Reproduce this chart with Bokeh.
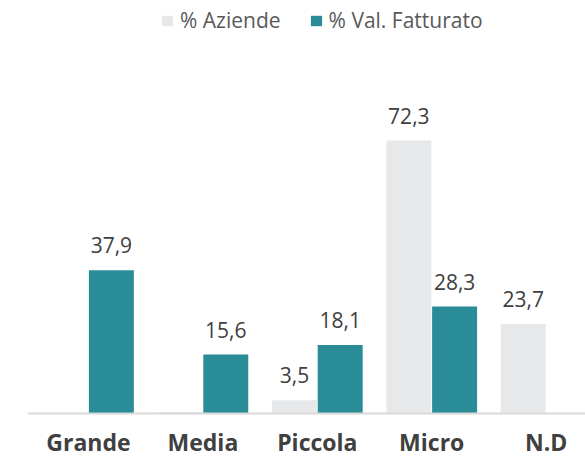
from bokeh.plotting import figure
from bokeh.models import ColumnDataSource, Range1d, Legend, LegendItem, Span
from bokeh.embed import file_html
from bokeh.resources import INLINE
from bokeh.core.properties import value

categories = ["Grande", "Media", "Piccola", "Micro", "N.D"]
aziende = [0.0, 0.4, 3.5, 72.3, 23.7]
fatturato = [37.9, 15.6, 18.1, 28.3, 0.0]

GREY = "#E7E8EA"
TEAL = "#2A8C96"
FONT = "Open Sans"

xs = list(range(len(categories)))

def lab(v):
    return ("%.1f" % v).replace(".", ",") if v >= 1 else ""

src_a = ColumnDataSource(dict(x=[i - 0.2 for i in xs], top=aziende, lab=[lab(v) for v in aziende]))
src_f = ColumnDataSource(dict(x=[i + 0.2 for i in xs], top=fatturato, lab=[lab(v) for v in fatturato]))
src_c = ColumnDataSource(dict(x=xs, y=[0] * len(xs), lab=categories))

p = figure(width=585, height=458, output_backend="svg", toolbar_location=None,
           x_range=Range1d(-0.533, 4.344), y_range=Range1d(-11.95, 109.41),
           min_border_left=27, min_border_right=0, min_border_top=0, min_border_bottom=0)
p.outline_line_color = None
p.grid.visible = False
p.xaxis.visible = False
p.yaxis.visible = False

ra = p.vbar(x="x", top="top", width=0.393, source=src_a, fill_color=GREY, line_color=None)
rf = p.vbar(x="x", top="top", width=0.393, source=src_f, fill_color=TEAL, line_color=None)

p.add_layout(Span(location=0, dimension="width", line_color="#D9D9D9", line_width=2))

for s in (src_a, src_f):
    p.text(x="x", y="top", text="lab", source=s, text_align="center", text_baseline="middle",
           y_offset=-25, text_font=value(FONT), text_font_size="21px", text_color="#404040")

p.text(x="x", y="y", text="lab", source=src_c, text_align="center", text_baseline="middle",
       y_offset=29, text_font=value(FONT), text_font_style="bold", text_font_size="23px",
       text_color="#404040")

legend = Legend(items=[LegendItem(label="% Aziende", renderers=[ra]),
                       LegendItem(label="% Val. Fatturato", renderers=[rf])],
                orientation="horizontal", location=(133, 424),
                glyph_width=14, glyph_height=13, label_height=21, label_standoff=6,
                spacing=28, padding=0, margin=0, border_line_color=None,
                background_fill_alpha=0, label_text_font=FONT, label_text_font_size="21px",
                label_text_color="#595959")
p.add_layout(legend, "center")

open("out.html", "w").write(file_html(p, INLINE))
